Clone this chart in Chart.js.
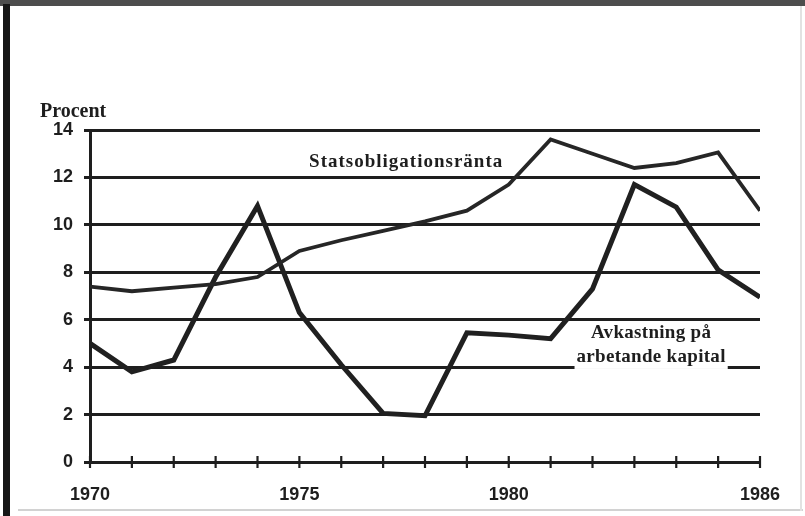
<!DOCTYPE html>
<html>
<head>
<meta charset="utf-8">
<script src="https://cdn.jsdelivr.net/npm/chart.js@4"></script>
<style>
  html,body{margin:0;padding:0;background:#fff;}
  body{width:805px;height:516px;position:relative;overflow:hidden;}
  #frameTop{position:absolute;left:0;top:0;width:805px;height:6px;background:#4d4d4d;}
  #frameLeft{position:absolute;left:3px;top:4px;width:7px;height:512px;background:#161616;}
  #frameBottom{position:absolute;left:18px;top:509px;width:785px;height:2px;background:#d2d2d2;}
  #frameRight{position:absolute;left:800px;top:6px;width:2px;height:505px;background:#e2e2e2;}
  #wrap{position:absolute;left:0;top:0;width:805px;height:516px;}
</style>
</head>
<body>
<div id="frameTop"></div>
<div id="frameLeft"></div>
<div id="frameBottom"></div>
<div id="frameRight"></div>
<div id="wrap"><canvas id="c"></canvas></div>
<script>
// Statsobligationsränta vs avkastning på arbetande kapital, 1970-1986 (procent)
const INK = "#1e1e1e";
const years = [1970,1971,1972,1973,1974,1975,1976,1977,1978,1979,1980,1981,1982,1983,1984,1985,1986];
const statsRanta = [7.4,7.2,7.35,7.5,7.8,8.9,9.35,9.75,10.15,10.6,11.7,13.6,13.0,12.4,12.6,13.05,10.6];
const avkastning = [5.0,3.8,4.3,7.8,10.8,6.3,4.1,2.05,1.95,5.45,5.35,5.2,7.3,11.7,10.75,8.1,6.95];
const yearLabels = [1970,1975,1980,1986];
const yTicks = [0,2,4,6,8,10,12,14];

const pts = arr => arr.map((v,i)=>({x:years[i], y:v}));

// text labels drawn in the plot, placed in data units
const notes = [
  {lines:["Statsobligationsränta"], x:1977.55, y:12.45, mask:false, spacing:"1px"},
  {lines:["Avkastning på","arbetande kapital"], x:1983.4, y:5.23, mask:true, spacing:"0.3px"}
];

const decor = {
  id:"decor",
  afterDraw(chart){
    const {ctx, scales:{x,y}} = chart;
    ctx.save();
    // crossing tick marks on the x axis
    ctx.strokeStyle = INK; ctx.lineWidth = 2.2;
    const yb = y.getPixelForValue(0);
    years.forEach(yr=>{
      const px = x.getPixelForValue(yr);
      ctx.beginPath(); ctx.moveTo(px, yb-6); ctx.lineTo(px, yb+6); ctx.stroke();
    });
    // axis title
    ctx.fillStyle = INK;
    ctx.font = "bold 20px 'Liberation Serif', serif";
    ctx.textAlign = "left"; ctx.textBaseline = "alphabetic";
    ctx.fillText("Procent", 40, 117, 70);
    // line labels
    ctx.font = "bold 19px 'Liberation Serif', serif";
    ctx.textAlign = "center";
    notes.forEach(n=>{
      ctx.letterSpacing = n.spacing;
      const cx = x.getPixelForValue(n.x);
      let by = y.getPixelForValue(n.y);
      n.lines.forEach((t,k)=>{
        const w = ctx.measureText(t).width;
        if(n.mask && k===n.lines.length-1){
          ctx.fillStyle = "#fff";
          ctx.fillRect(cx - w/2 - 2, by - 15, w + 4, 22);
          ctx.fillStyle = INK;
        }
        ctx.fillText(t, cx, by);
        by += 24;
      });
    });
    ctx.restore();
  }
};

new Chart(document.getElementById("c"), {
  type:"line",
  data:{datasets:[
    {label:"Statsobligationsränta", data:pts(statsRanta), borderColor:"#262626", borderWidth:3.8, pointRadius:0, tension:0},
    {label:"Avkastning på arbetande kapital", data:pts(avkastning), borderColor:"#202020", borderWidth:5, pointRadius:0, tension:0}
  ]},
  options:{
    responsive:true, maintainAspectRatio:false, animation:false,
    layout:{padding:{top:130, right:45, left:0, bottom:0}},
    plugins:{legend:{display:false}, tooltip:{enabled:false}},
    scales:{
      x:{
        type:"linear", min:1970, max:1986,
        afterFit(s){ s.height = 54; },
        border:{display:true, color:INK, width:3},
        grid:{display:false},
        ticks:{
          stepSize:1, autoSkip:false, maxRotation:0, color:INK, padding:14,
          font:{family:"'Liberation Sans', Arial, sans-serif", size:18, weight:"bold"},
          callback:v => yearLabels.includes(v) ? String(v) : ""
        }
      },
      y:{
        min:0, max:14,
        afterFit(s){ s.width = 90; },
        afterBuildTicks(s){ s.ticks = yTicks.map(v=>({value:v})); },
        border:{display:true, color:INK, width:3},
        grid:{color:INK, lineWidth:3, tickLength:6, drawTicks:true},
        ticks:{
          color:INK, padding:11,
          font:{family:"'Liberation Sans', Arial, sans-serif", size:18, weight:"bold"}
        }
      }
    }
  },
  plugins:[decor]
});
</script>
</body>
</html>
